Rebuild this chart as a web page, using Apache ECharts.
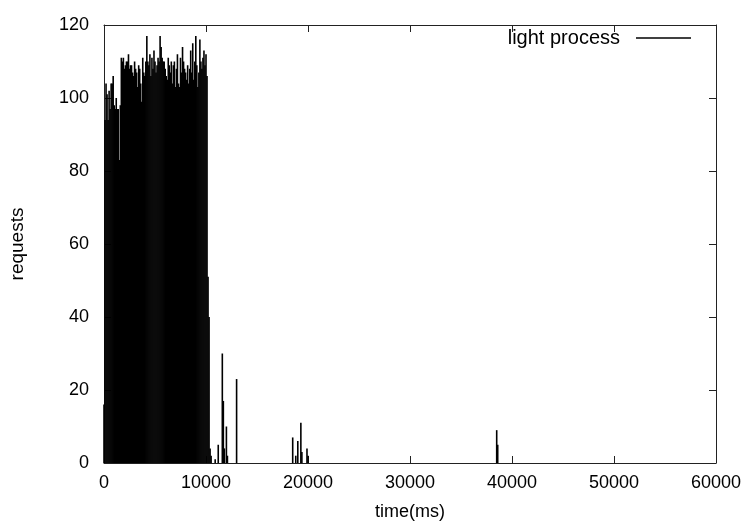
<!DOCTYPE html>
<html>
  <head>
    <meta charset="utf-8" />
    <title>light process</title>
    <style>
      html, body { margin: 0; padding: 0; background: #fff; }
    </style>
  </head>
  <body>
    <div id="main" style="width: 750px; height: 527px"></div>
    <script type="text/javascript" src="https://cdn.jsdelivr.net/npm/echarts@6/dist/echarts.min.js"></script>
    <script type="text/javascript">
      // dense part: one sample every 100 ms from 0 ms
      var denseStep = 100;
      var denseValues = [
        16, 94, 104, 101, 94, 102, 97, 104, 104, 106,
        98, 97, 100, 97, 97, 83, 98, 111, 110, 111,
        108, 109, 110, 110, 112, 108, 109, 109, 107, 106,
        110, 108, 107, 103, 109, 108, 104, 99, 111, 107,
        106, 110, 117, 110, 109, 112, 106, 111, 108, 113,
        110, 107, 109, 111, 110, 117, 114, 111, 110, 110,
        108, 106, 105, 111, 109, 107, 110, 104, 109, 110,
        103, 108, 112, 104, 103, 111, 107, 114, 110, 108,
        107, 105, 109, 104, 108, 113, 107, 115, 105, 110,
        117, 109, 103, 107, 116, 110, 108, 111, 113, 109,
        112, 106
      ];
      // tail: scattered requests after the burst
      var lateTimes = [10200, 10300, 10400, 10500, 10900, 11200, 11600, 11700, 11800, 12000,
        12100, 13000, 18500, 18800, 19000, 19300, 19400, 19900, 20000, 38500, 38600];
      var lateValues = [51, 40, 4, 2, 1, 5, 30, 17, 4, 10,
        2, 23, 7, 2, 6, 11, 3, 4, 2, 9, 5];

      var data = [];
      for (var i = 0; i < denseValues.length; i++) {
        data.push([i * denseStep, denseValues[i]]);
      }
      for (var j = 0; j < lateTimes.length; j++) {
        data.push([lateTimes[j], lateValues[j]]);
      }

      var font = "Liberation Sans, Arial, sans-serif";
      var axisColor = "#222";

      var myChart = echarts.init(document.getElementById("main"));
      var option = {
        animation: false,
        grid: { left: 104, right: 34, top: 25, bottom: 64 },
        legend: {
          right: 59,
          top: 28,
          padding: 0,
          align: "right",
          icon: "rect",
          itemWidth: 55,
          itemHeight: 1.5,
          itemGap: 0,
          textStyle: { fontFamily: font, fontSize: 20, color: "#000", padding: [0, 11, 0, 0] },
          data: ["light process"]
        },
        xAxis: [
          {
            type: "value",
            min: 0,
            max: 60000,
            interval: 10000,
            name: "time(ms)",
            nameLocation: "middle",
            nameGap: 40,
            nameTextStyle: { fontFamily: font, fontSize: 18, color: "#000" },
            axisLine: { onZero: false, lineStyle: { color: axisColor } },
            axisTick: { inside: true, length: 7, lineStyle: { color: axisColor } },
            axisLabel: { fontFamily: font, fontSize: 18, color: "#000", margin: 11, formatter: function (v) { return String(v); } },
            splitLine: { show: false }
          },
          {
            type: "value",
            position: "top",
            min: 0,
            max: 60000,
            interval: 10000,
            axisLine: { onZero: false, lineStyle: { color: axisColor } },
            axisTick: { inside: true, length: 7, lineStyle: { color: axisColor } },
            axisLabel: { show: false },
            splitLine: { show: false }
          }
        ],
        yAxis: [
          {
            type: "value",
            min: 0,
            max: 120,
            interval: 20,
            name: "requests",
            nameLocation: "middle",
            nameGap: 77,
            nameRotate: 90,
            nameTextStyle: { fontFamily: font, fontSize: 19, color: "#000" },
            axisLine: { show: true, onZero: false, lineStyle: { color: axisColor } },
            axisTick: { show: true, inside: true, length: 7, lineStyle: { color: axisColor } },
            axisLabel: { fontFamily: font, fontSize: 18, color: "#000", margin: 15 },
            splitLine: { show: false }
          },
          {
            type: "value",
            position: "right",
            min: 0,
            max: 120,
            interval: 20,
            axisLine: { show: true, onZero: false, lineStyle: { color: axisColor } },
            axisTick: { show: true, inside: true, length: 7, lineStyle: { color: axisColor } },
            axisLabel: { show: false },
            splitLine: { show: false }
          }
        ],
        series: [
          {
            name: "light process",
            type: "bar",
            xAxisIndex: 0,
            yAxisIndex: 0,
            barWidth: 1.6,
            itemStyle: { color: "#000" },
            data: data
          }
        ]
      };
      myChart.setOption(option);
    </script>
  </body>
</html>
